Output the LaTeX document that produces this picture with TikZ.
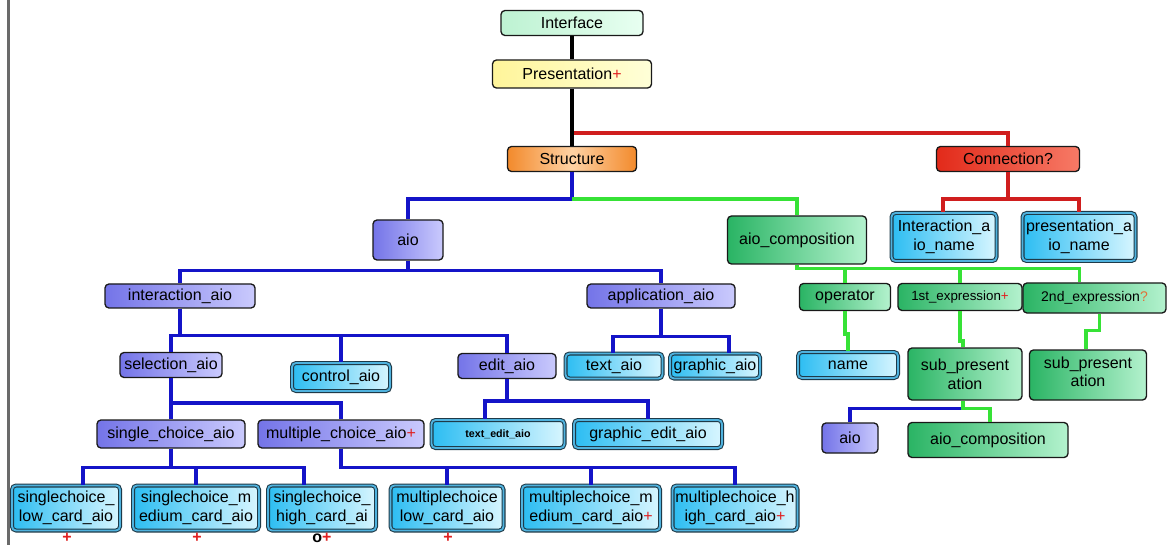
\documentclass[tikz,border=0pt]{standalone}
\usepackage{fontspec}
\setmainfont{Liberation Sans}
\usetikzlibrary{calc}
\definecolor{purL}{HTML}{7474E8}
\definecolor{purR}{HTML}{CACAFD}
\definecolor{cyaD}{HTML}{1E3A48}
\definecolor{cyaM}{HTML}{4FB2DE}
\definecolor{cyaL}{HTML}{2CBDF2}
\definecolor{cyaR}{HTML}{D8F6FF}
\definecolor{grnL}{HTML}{2AB464}
\definecolor{grnR}{HTML}{B4F2CE}
\definecolor{ifL}{HTML}{BDF2D2}
\definecolor{ifR}{HTML}{E8FFF1}
\definecolor{prL}{HTML}{FFF59A}
\definecolor{prR}{HTML}{FFFFD8}
\definecolor{orL}{HTML}{F28A2C}
\definecolor{orM}{HTML}{FFD2A4}
\definecolor{rdL}{HTML}{E22A1A}
\definecolor{rdR}{HTML}{F77A66}
\definecolor{lblue}{HTML}{1414C8}
\definecolor{lred}{HTML}{D01E1E}
\definecolor{lgreen}{HTML}{36E236}
\definecolor{plusred}{HTML}{E02020}
\definecolor{qorange}{HTML}{E0703A}
\definecolor{barg}{HTML}{6A6A6A}
\newcommand{\pl}{\textcolor{plusred}{+}}
\begin{document}
\begin{tikzpicture}[x=0.75pt,y=-0.75pt,
 box/.style={draw=black!90, line width=1pt, rounded corners=3pt, inner sep=0pt, align=center, font=\fontsize{12}{14.5}\selectfont},
 sz/.style 2 args={minimum width=#1*0.75pt, minimum height=#2*0.75pt},
 pur/.style={box, left color=purL, right color=purR},
 cya/.style={box, draw=cyaD, double=cyaM, double distance=1.4pt, line width=0.8pt, left color=cyaL, right color=cyaR},
 grnb/.style={box, left color=grnL, right color=grnR},
 ln/.style={line width=2.7pt},
 bl/.style={ln, draw=lblue}, rd/.style={ln, draw=lred}, gr/.style={ln, draw=lgreen}, bk/.style={ln, draw=black},
 plus/.style={inner sep=0pt, font=\fontsize{12}{14}\selectfont\bfseries}]
\useasboundingbox (0,0) rectangle (1167,545);
\fill[white] (0,0) rectangle (1167,545);
\draw[line width=2.4pt, barg] (8.5,0) -- (8.5,545);

% top level
\node[box, sz={142}{25}, left color=ifL, right color=ifR] (iface) at (572,23) {Interface};
\node[box, sz={159}{28}, left color=prL, right color=prR] (pres) at (572,74) {Presentation\pl};
\node[box, sz={129}{25}, left color=orL, right color=orL, middle color=orM] (struct) at (572,159) {Structure};
\node[box, sz={143}{25}, left color=rdL, right color=rdR] (conn) at (1008,159) {Connection?};
\coordinate (jr) at (572,133);

% connection children
\node[cya, sz={105}{48}] (ian) at (944,237) {Interaction\_a\\io\_name};
\node[cya, sz={113}{48}] (pan) at (1079,237) {presentation\_a\\io\_name};

% structure children
\node[pur, sz={70}{40}] (aio) at (408,240) {aio};
\node[grnb, sz={139}{48}] (aioc) at (797,240) {aio\_composition};

\node[pur, sz={150}{24}] (inter) at (180,296) {interaction\_aio};
\node[pur, sz={148}{24}] (appl) at (661,296) {application\_aio};

\node[cya, sz={97}{25}] (text) at (614,366) {text\_aio};
\node[cya, sz={90}{25}] (graph) at (715,366) {graphic\_aio};

\node[pur, sz={102}{25}] (sel) at (171,365) {selection\_aio};
\node[cya, sz={98}{28}] (ctrl) at (341,377) {control\_aio};
\node[pur, sz={98}{25}] (edit) at (507,366) {edit\_aio};

\node[cya, sz={133}{28}, font=\fontsize{8}{10}\selectfont\bfseries] (tedit) at (498,434) {text\_edit\_aio};
\node[cya, sz={148}{28}] (gedit) at (648,434) {graphic\_edit\_aio};

\node[pur, sz={148}{28}] (single) at (171,434) {single\_choice\_aio};
\node[pur, sz={166}{28}] (multi) at (341,434) {multiple\_choice\_aio\pl};

\node[cya, sz={108}{45}] (sc1) at (66,508) {singlechoice\_\\low\_card\_aio};
\node[cya, sz={126}{45}] (sc2) at (196,508) {singlechoice\_m\\edium\_card\_aio};
\node[cya, sz={108}{45}] (sc3) at (322,508) {singlechoice\_\\high\_card\_ai};
\node[cya, sz={113}{45}] (mc1) at (447,508) {multiplechoice\\low\_card\_aio};
\node[cya, sz={138}{45}] (mc2) at (591,508) {multiplechoice\_m\\edium\_card\_aio\pl};
\node[cya, sz={125}{45}] (mc3) at (735,508) {multiplechoice\_h\\igh\_card\_aio\pl};

\node[plus, text=plusred] (p1) at (67,538) {+};
\node[plus, text=plusred] (p2) at (197,538) {+};
\node[plus] (p3) at (322,538) {o\textcolor{plusred}{+}};
\node[plus, text=plusred] (p4) at (448,538) {+};

% aio_composition children
\node[grnb, sz={91}{27}] (op) at (845,297) {operator};
\node[grnb, sz={124}{27}, font=\fontsize{10}{12}\selectfont] (first) at (960,297) {1st\_expression\pl};
\node[grnb, sz={143}{30}, font=\fontsize{10.5}{12}\selectfont] (second) at (1094.5,298) {2nd\_expression\textcolor{qorange}{?}};
\node[cya, sz={100}{26}] (name) at (848,365) {name};
\node[grnb, sz={114}{52}] (sp1) at (965,374) {sub\_present\\ation};
\node[grnb, sz={117}{50}] (sp2) at (1088,375) {\raisebox{5pt}{\shortstack{sub\_present\\ation}}};
\node[pur, sz={56}{30}] (aio2) at (850,438) {aio};
\node[grnb, sz={160}{35}] (aioc2) at (988,440) {aio\_composition};

% connectors
\draw[rd] (jr) -| (conn.north);
\draw[bk] (iface.south) -- (pres.north);
\draw[bk] (pres.south) -- (struct.north);
\draw[rd] (conn.south) -- ++(0,27) -| ($(ian.north)+(-1,0)$);
\draw[rd] (conn.south) -- ++(0,27) -| (pan.north);

\draw[bl] (struct.south) -- ++(0,27) -| (aio.north);
\draw[gr] ($(struct.south)+(0,27)$) -| (aioc.north);

\draw[bl] (aio.south) -- ++(0,10) -| (inter.north);
\draw[bl] (aio.south) -- ++(0,10) -| (appl.north);

\draw[bl] (appl.south) -- ++(0,28) -| ($(text.north)+(-1,0)$);
\draw[bl] (appl.south) -- ++(0,28) -| ($(graph.north)+(14,0)$);

\draw[bl] (inter.south) -- ++(0,27) -| (sel.north);
\draw[bl] (inter.south) -- ++(0,27) -| (ctrl.north);
\draw[bl] (inter.south) -- ++(0,27) -| (edit.north);

\draw[bl] (edit.south) -- ++(0,22) -| ($(tedit.north)+(-13,0)$);
\draw[bl] (edit.south) -- ++(0,22) -| (gedit.north);

\draw[bl] (sel.south) -- ++(0,25) -| (single.north);
\draw[bl] (sel.south) -- ++(0,25) -| (multi.north);

\draw[bl] (single.south) -- ++(0,19) -| ($(sc1.north)+(17,0)$);
\draw[bl] (single.south) -- ++(0,19) -| (sc2.north);
\draw[bl] (single.south) -- ++(0,19) -| ($(sc3.north)+(-18,0)$);

\draw[bl] (multi.south) -- ++(0,19) -| (mc1.north);
\draw[bl] (multi.south) -- ++(0,19) -| (mc2.north);
\draw[bl] (multi.south) -- ++(0,19) -| (mc3.north);

\draw[gr] (aioc.south) -- ++(0,4) -| (op.north);
\draw[gr] (aioc.south) -- ++(0,4) -| (first.north);
\draw[gr] (aioc.south) -- ++(0,4) -| ($(second.north)+(-15,0)$);

\draw[gr] (op.south) -- ++(0,23) -| (name.north);
\draw[gr] (first.south) -- ++(0,30) -| ($(sp1.north)+(-2,0)$);
\draw[gr] ($(second.south)+(5,0)$) -- ++(0,17) -| ($(sp2.north)+(-2,0)$);

\draw[bl] ($(sp1.south)+(-2,8)$) -| (aio2.north);
\draw[gr] ($(sp1.south)+(-2,0)$) -- ++(0,8) -| ($(aioc2.north)+(2,0)$);
\end{tikzpicture}
\end{document}
